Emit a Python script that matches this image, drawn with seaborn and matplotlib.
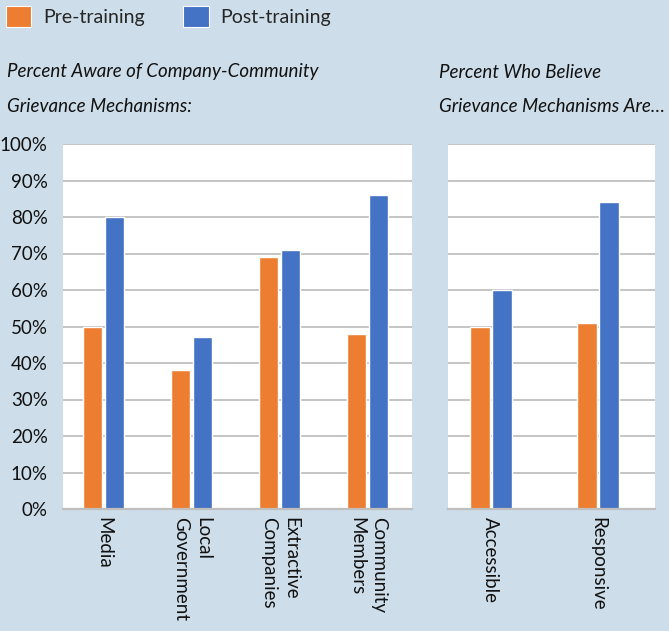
import matplotlib
matplotlib.use("Agg")
import matplotlib.pyplot as plt
import seaborn as sns
import pandas as pd

# Awareness of company-community grievance mechanisms
aware_categories = ["Media", "Local\nGovernment", "Extractive\nCompanies", "Community\nMembers"]
aware_pre = [50, 38, 69, 48]
aware_post = [80, 47, 71, 86]

# Belief about the grievance mechanisms
belief_categories = ["Accessible", "Responsive"]
belief_pre = [50, 51]
belief_post = [60, 84]

series_names = ["Pre-training", "Post-training"]
y_ticks = [0, 10, 20, 30, 40, 50, 60, 70, 80, 90, 100]
y_tick_labels = [f"{v}%" for v in y_ticks]

BG = "#CDDDE9"
ORANGE = "#ED7D31"
BLUE = "#4472C4"
GRID = "#BFBFBF"

sns.set_theme(style="white")
plt.rcParams["font.family"] = ["Lato", "DejaVu Sans"]


def long_form(categories, pre, post):
    rows = []
    for c, a, b in zip(categories, pre, post):
        rows.append({"category": c, "series": series_names[0], "value": a})
        rows.append({"category": c, "series": series_names[1], "value": b})
    return pd.DataFrame(rows)


fig = plt.figure(figsize=(6.69, 6.31), dpi=100, facecolor=BG)
ax1 = fig.add_axes([63 / 669, 1 - 509 / 631, 349 / 669, 365 / 631])
ax2 = fig.add_axes([448 / 669, 1 - 509 / 631, 207 / 669, 365 / 631])

palette = {series_names[0]: ORANGE, series_names[1]: BLUE}

sns.barplot(data=long_form(aware_categories, aware_pre, aware_post),
            x="category", y="value", hue="series", palette=palette,
            width=0.5, gap=0.12, saturation=1, ax=ax1, legend=True)
sns.barplot(data=long_form(belief_categories, belief_pre, belief_post),
            x="category", y="value", hue="series", palette=palette,
            width=0.415, gap=0.12, saturation=1, ax=ax2, legend=False)

handles, labels = ax1.get_legend_handles_labels()
ax1.get_legend().remove()
for h in handles:
    h.set_edgecolor("white")
    h.set_linewidth(0.8)

for ax in (ax1, ax2):
    ax.set_facecolor("white")
    ax.set_ylim(0, 100)
    ax.set_yticks(y_ticks)
    ax.yaxis.grid(True, color=GRID, linewidth=1.3)
    ax.set_axisbelow(True)
    for side in ("top", "left", "right"):
        ax.spines[side].set_visible(False)
    ax.spines["bottom"].set_color(GRID)
    ax.spines["bottom"].set_linewidth(1.6)
    ax.set_xlabel("")
    ax.set_ylabel("")
    ax.tick_params(axis="both", length=0)
    for lbl in ax.get_xticklabels():
        lbl.set_rotation(-90)
        lbl.set_va("top")
        lbl.set_ha("center")
        lbl.set_multialignment("left")
        lbl.set_linespacing(1.35)
        lbl.set_fontsize(13.5)
        lbl.set_color("#111111")
    ax.tick_params(axis="x", pad=6)

ax1.set_xlim(-0.46, 3.506)
ax2.set_xlim(-0.4, 1.53)

ax1.set_yticklabels(y_tick_labels, fontsize=13.5, color="#111111")
ax1.tick_params(axis="y", pad=11)
ax2.set_yticklabels([])

fig.legend(handles, labels, loc="upper left", bbox_to_anchor=(0.0, 1.0),
           ncol=2, frameon=False, fontsize=14, handlelength=1.3,
           handleheight=1.3, handletextpad=0.6, columnspacing=2.0,
           borderaxespad=0.0, borderpad=0.3)

title_kw = dict(fontsize=13.5, style="italic", color="#111111", va="center")
fig.text(7 / 669, 1 - 72 / 631, "Percent Aware of Company-Community", **title_kw)
fig.text(7 / 669, 1 - 106 / 631, "Grievance Mechanisms:", **title_kw)
fig.text(439 / 669, 1 - 72 / 631, "Percent Who Believe", **title_kw)
fig.text(439 / 669, 1 - 106 / 631, "Grievance Mechanisms Are…", **title_kw)

fig.savefig("out.png", dpi=100, facecolor=BG)
